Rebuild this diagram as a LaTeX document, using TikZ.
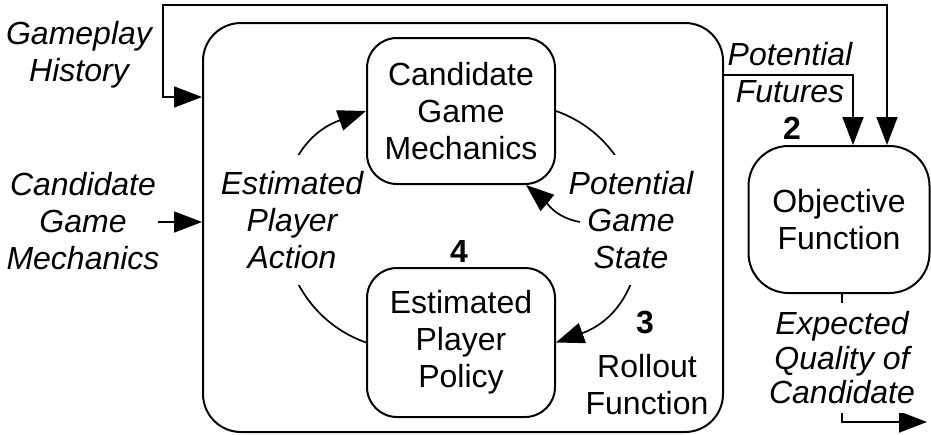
\documentclass[tikz,border=0pt]{standalone}
\usepackage{fontspec}
\setmainfont{Liberation Sans}
\usetikzlibrary{arrows.meta}
\begin{document}
\begin{tikzpicture}[x=1pt,y=-1pt,
  every node/.style={font=\fontsize{32}{37}\selectfont, align=center},
  box/.style={draw, line width=2pt, rounded corners=#1, inner sep=0pt},
  box/.default=30pt,
  lbl/.style={font=\fontsize{32}{37}\selectfont\itshape},
  num/.style={font=\fontsize{32}{37}\selectfont\bfseries},
  conn/.style={line width=1.7pt},
  tip/.style={-{Triangle[length=28pt,width=21pt]}},
  tips/.style={{Triangle[length=28pt,width=21pt]}-{Triangle[length=28pt,width=21pt]}},
  cover/.style={lbl, fill=white, inner xsep=1pt}
]
\path[use as bounding box, fill=white] (0,0) rectangle (931,434);

% main blocks
\node[box=38pt, minimum width=520pt, minimum height=409pt] (sim) at (463,227.5) {};
\node[box, minimum width=188pt, minimum height=146pt] (cgm) at (461,111)
  {Candidate\\Game\\Mechanics};
\node[box, minimum width=188pt, minimum height=149pt] (epp) at (461,342.5)
  {Estimated\\Player\\Policy};
\node[box=40pt, minimum width=181pt, minimum height=147pt] (obj) at (839,219.5)
  {Objective\\Function};

% free labels
\node[lbl] (hist) at (79,55) {Gameplay\\History};
\node[lbl] (cand) at (83,221) {Candidate\\Game\\Mechanics};
\node[lbl] (fut) at (790,72.5) {Potential\\Futures};
\node[num] (n2) at (792,128) {2};
\node[num] (n3) at (645,323) {3};
\node[num] (n4) at (459,251) {4};
\node (roll) at (647,385) {Rollout\\Function};

% bend points of the outer connectors
\coordinate (loopA) at (163,97);
\coordinate (loopB) at (163,5);
\coordinate (loopC) at (887,5);
\coordinate (pfA) at (853,75);
\coordinate (cin) at (158,222);
\coordinate (outturn) at (842,422);
\coordinate (outend) at (927,422);
\coordinate (pgsout) at (580,222);

% gameplay history into the simulation and the objective
\draw[conn, tips] (sim.west |- loopA) -- (loopA) -- (loopB) -- (loopC)
  -- (obj.north -| loopC);
% candidate mechanics input
\draw[conn, tip] (cin) -- (sim.west |- cin);
% potential futures
\draw[conn, tip] (sim.east |- pfA) -- (pfA) -- (obj.north -| pfA);
% expected quality output
\draw[conn, tip] (obj.south -| outturn) --
  node[cover, inner ysep=9pt, font=\fontsize{32}{34.5}\selectfont\itshape]
  {Expected\\Quality of\\Candidate} (outturn) -- (outend);

% inner loop
\draw[conn, tip] (epp.west) .. controls (258.7,304.1) and (258.9,149.1) .. (cgm.west);
\node[cover, inner ysep=16.5pt] (act) at (292,220) {Estimated\\Player\\Action};
\draw[conn, tip] (cgm.east) .. controls (663.1,149.1) and (663.3,304.1) .. (epp.east);
\node[cover, inner ysep=16.5pt] (pgs) at (631,220) {Potential\\Game\\State};
\draw[conn, tip] (pgsout) to[out=170, in=-40] ([xshift=-30pt]cgm.south east);
\end{tikzpicture}
\end{document}
